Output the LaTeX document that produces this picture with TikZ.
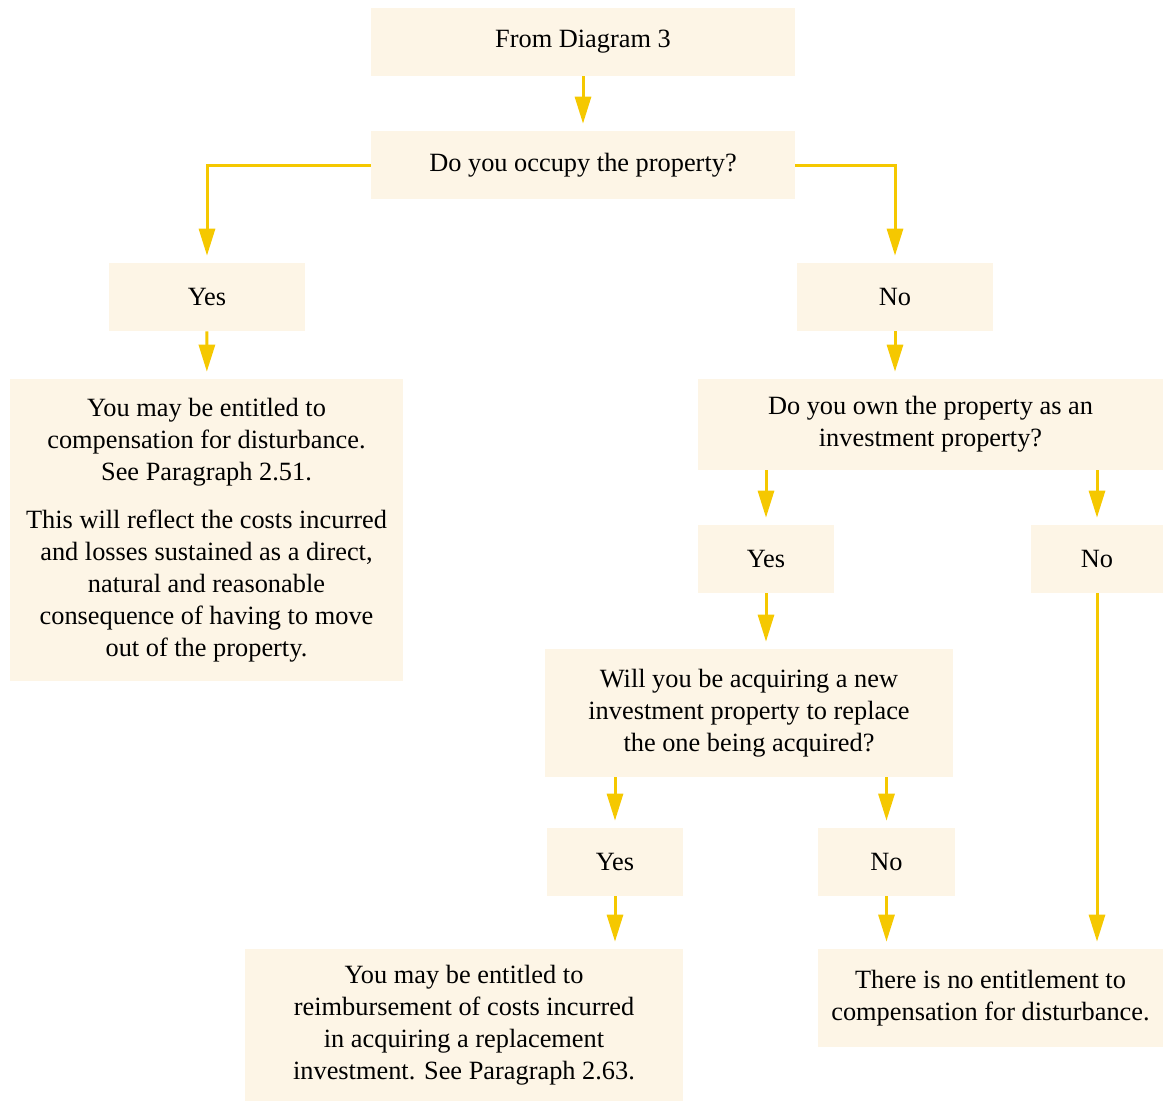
\documentclass[tikz,border=0pt]{standalone}
\usepackage{fontspec}
\setmainfont{Liberation Serif}
\usetikzlibrary{positioning, arrows.meta}

\definecolor{boxfill}{RGB}{253,245,230}
\definecolor{flowline}{RGB}{245,200,0}

\tikzset{
  box/.style={fill=boxfill, align=center, inner sep=0pt, font=\fontsize{15}{18.2}\selectfont},
  flow/.style={draw=flowline, line width=0.06cm, -{Triangle[width=0.32cm,length=0.54cm]}, shorten >=0.14cm}
}

\begin{document}
\begin{tikzpicture}[x=0.02cm, y=-0.02cm]
\useasboundingbox (0,0) rectangle (1163,1102);

\node[box, minimum width=8.48cm, minimum height=1.36cm](start) at (583,42) {From Diagram 3};
\node[box, minimum width=8.48cm, minimum height=1.36cm](occupy) at (583,165) {Do you occupy the property?};
\node[box, minimum width=3.92cm, minimum height=1.36cm](yesA) at (207,297) {Yes};
\node[box, minimum width=3.92cm, minimum height=1.36cm](noA) at (895,297) {No};
\node[box, minimum width=7.86cm, minimum height=6.04cm](disturb) at (206.5,530) {You may be entitled to\\compensation for disturbance.\\See Paragraph 2.51.\\[9pt]This will reflect the costs incurred\\and losses sustained as a direct,\\natural and reasonable\\consequence of having to move\\out of the property.};
\node[box, minimum width=9.3cm, minimum height=1.82cm](invest) at (930.5,424.5) {Do you own the property as an\\investment property?};
\node[box, minimum width=2.72cm, minimum height=1.36cm](yesB) at (766,559) {Yes};
\node[box, minimum width=2.64cm, minimum height=1.36cm](noB) at (1097,559) {No};
\node[box, minimum width=8.16cm, minimum height=2.56cm](replace) at (749,713) {Will you be acquiring a new\\investment property to replace\\the one being acquired?};
\node[box, minimum width=2.72cm, minimum height=1.36cm](yesC) at (615,862) {Yes};
\node[box, minimum width=2.74cm, minimum height=1.36cm](noC) at (886.5,862) {No};
\node[box, minimum width=8.76cm, minimum height=3.04cm](reimburse) at (464,1025) {You may be entitled to\\reimbursement of costs incurred\\in acquiring a replacement\\investment. See Paragraph 2.63.};
\node[box, minimum width=6.9cm, minimum height=1.96cm](none) at (990.5,998) {There is no entitlement to\\compensation for disturbance.};

\draw[flow] (start) -- (occupy);
\draw[flow] (occupy.west) -| (yesA.north);
\draw[flow] (occupy.east) -| (noA.north);
\draw[flow] (yesA) -- (disturb);
\draw[flow] (noA.south) -- (noA.south |- invest.north);
\draw[flow] (invest.south -| yesB.north) -- (yesB.north);
\draw[flow] (invest.south -| noB.north) -- (noB.north);
\draw[flow] (yesB.south) -- (yesB.south |- replace.north);
\draw[flow] (noB.south) -- (noB.south |- none.north);
\draw[flow] (replace.south -| yesC.north) -- (yesC.north);
\draw[flow] (replace.south -| noC.north) -- (noC.north);
\draw[flow] (yesC.south) -- (yesC.south |- reimburse.north);
\draw[flow] (noC.south) -- (noC.south |- none.north);
\end{tikzpicture}
\end{document}
